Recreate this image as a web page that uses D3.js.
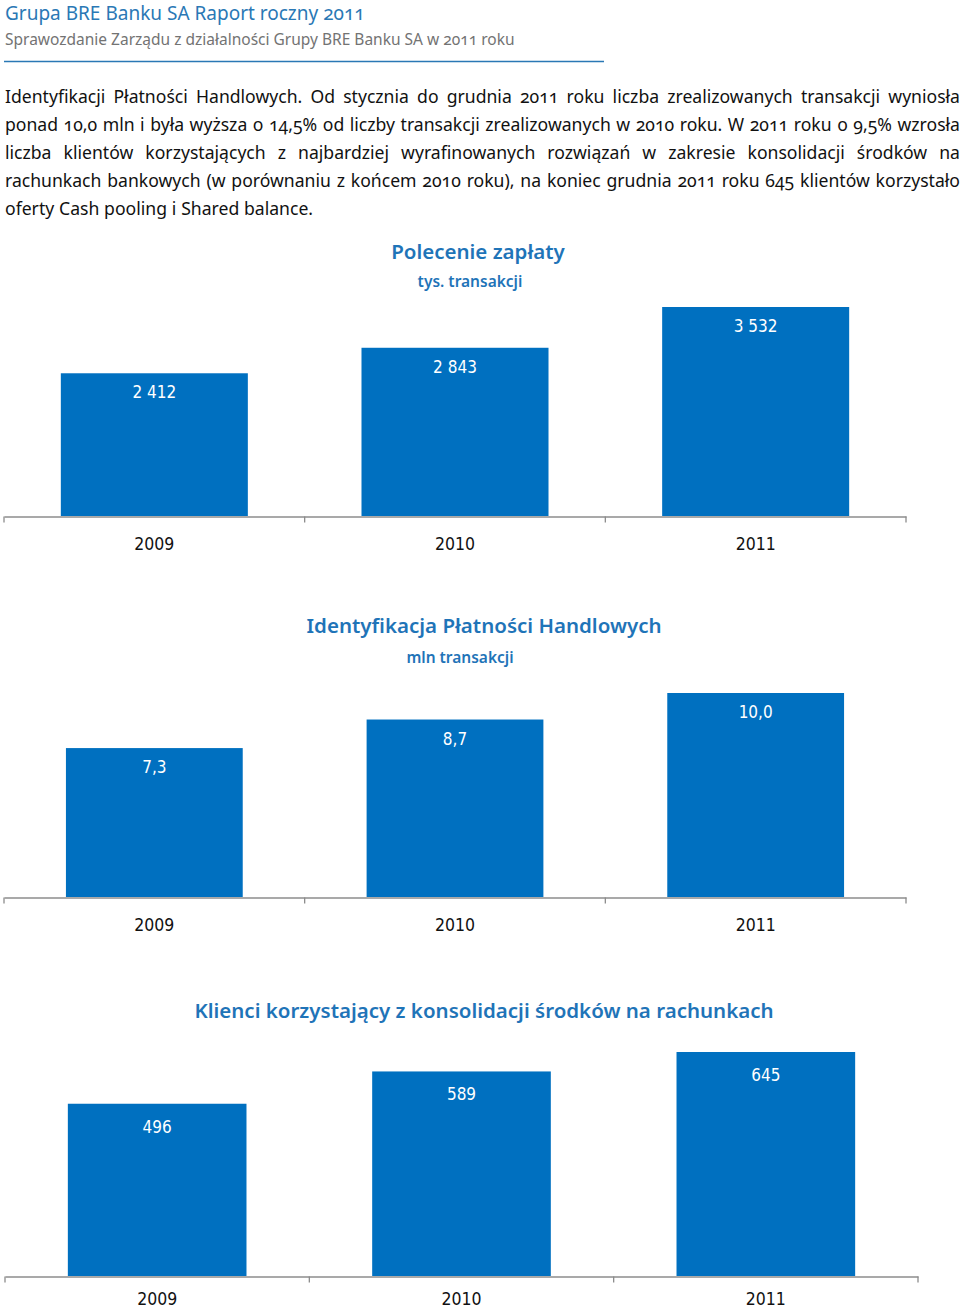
<!DOCTYPE html>
<html><head><meta charset="utf-8">
<script src="https://cdn.jsdelivr.net/npm/d3@7"></script>
<style>
html,body{margin:0;padding:0;background:#fff;}
svg{display:block;}
.onum{font-feature-settings:"onum" 1;}
</style></head>
<body>
<svg id="c" width="960" height="1308"></svg>
<script>
// ---------- DATA ----------
const headerTitle = "Grupa BRE Banku SA Raport roczny 2011";
const headerSub = "Sprawozdanie Zarządu z działalności Grupy BRE Banku SA w 2011 roku";
const bodyLines = [
  "Identyfikacji Płatności Handlowych. Od stycznia do grudnia 2011 roku liczba zrealizowanych transakcji wyniosła",
  "ponad 10,0 mln i była wyższa o 14,5% od liczby transakcji zrealizowanych w 2010 roku. W 2011 roku o 9,5% wzrosła",
  "liczba klientów korzystających z najbardziej wyrafinowanych rozwiązań w zakresie konsolidacji środków na",
  "rachunkach bankowych (w porównaniu z końcem 2010 roku), na koniec grudnia 2011 roku 645 klientów korzystało",
  "oferty Cash pooling i Shared balance."
];
const years = ["2009", "2010", "2011"];
const chartTitles = ["Polecenie zapłaty", "Identyfikacja Płatności Handlowych", "Klienci korzystający z konsolidacji środków na rachunkach"];
const chartUnits = ["tys. transakcji", "mln transakcji", ""];
const valuesPolecenie = [2412, 2843, 3532];
const valuesIPH = [7.3, 8.7, 10.0];
const valuesKlienci = [496, 589, 645];
const labelsPolecenie = ["2 412", "2 843", "3 532"];
const labelsIPH = ["7,3", "8,7", "10,0"];
const labelsKlienci = ["496", "589", "645"];

// ---------- STYLE / LAYOUT ----------
const BLUE = "#0070c0";
const TITLE_BLUE = "#1f74b8";
const bodyFont = "'Noto Sans', 'Open Sans', sans-serif";
const chartFont = "'DejaVu Sans Condensed', 'Liberation Sans Narrow', 'Liberation Sans', sans-serif";

const svg = d3.select("#c");

// header
svg.append("text").attr("class", "onum").attr("x", 5).attr("y", 20).attr("font-family", bodyFont)
  .attr("font-size", 19).attr("fill", "#2a78b5").text(headerTitle);
svg.append("text").attr("class", "onum").attr("x", 5).attr("y", 45).attr("font-family", bodyFont)
  .attr("font-size", 15.5).attr("fill", "#737373").text(headerSub);
svg.append("line").attr("x1", 4).attr("x2", 604).attr("y1", 61.5).attr("y2", 61.5)
  .attr("stroke", "#2a78b5").attr("stroke-width", 1.6);

// body text, justified
const bodyX0 = 5, bodyX1 = 960, bodyY0 = 103, bodyLH = 28;
bodyLines.forEach((line, i) => {
  const g = svg.append("g");
  const words = line.split(" ");
  const y = bodyY0 + i * bodyLH;
  const nodes = words.map(w => g.append("text").attr("class", "onum").attr("y", y).attr("font-family", bodyFont)
    .attr("font-size", 17.6).attr("fill", "#111").text(w));
  const widths = nodes.map(n => n.node().getComputedTextLength());
  const total = d3.sum(widths);
  const last = i === bodyLines.length - 1;
  let space = 4.8;
  if (!last) space = (bodyX1 - bodyX0 - total) / (words.length - 1);
  let x = bodyX0;
  nodes.forEach((n, k) => { n.attr("x", x); x += widths[k] + space; });
});

// charts
const charts = [
  {title: chartTitles[0], unit: chartUnits[0], values: valuesPolecenie, labels: labelsPolecenie,
   titleX: 478, titleY: 259, unitX: 470, unitY: 287, x0: 4, x1: 906, base: 516, top: 307,
   barFrac: 0.622, labelOff: 25, yearY: 550},
  {title: chartTitles[1], unit: chartUnits[1], values: valuesIPH, labels: labelsIPH,
   titleX: 484, titleY: 633, unitX: 460, unitY: 663, x0: 4, x1: 906, base: 897, top: 693,
   barFrac: 0.588, labelOff: 25, yearY: 931},
  {title: chartTitles[2], unit: chartUnits[2], values: valuesKlienci, labels: labelsKlienci,
   titleX: 484, titleY: 1018, unitX: 484, unitY: 1040, x0: 5, x1: 918, base: 1276, top: 1052,
   barFrac: 0.587, labelOff: 29, yearY: 1305}
];

charts.forEach(c => {
  const g = svg.append("g");
  g.append("text").attr("x", c.titleX).attr("y", c.titleY).attr("text-anchor", "middle")
    .attr("font-family", bodyFont).attr("font-weight", 600).attr("font-size", 20.5)
    .attr("fill", TITLE_BLUE).text(c.title);
  if (c.unit) g.append("text").attr("x", c.unitX).attr("y", c.unitY).attr("text-anchor", "middle")
    .attr("font-family", bodyFont).attr("font-weight", 600).attr("font-size", 15.5)
    .attr("fill", TITLE_BLUE).text(c.unit);

  const x = d3.scaleBand().domain(years).range([c.x0, c.x1]).padding(0);
  const y = d3.scaleLinear().domain([0, d3.max(c.values)]).range([c.base, c.top]);
  const bw = x.bandwidth() * c.barFrac;
  const data = years.map((yr, i) => ({yr, v: c.values[i], lab: c.labels[i]}));

  g.selectAll("rect.bar").data(data).join("rect").attr("class", "bar")
    .attr("x", d => x(d.yr) + (x.bandwidth() - bw) / 2)
    .attr("width", bw)
    .attr("y", d => y(d.v))
    .attr("height", d => y(0) - y(d.v))
    .attr("fill", BLUE);

  g.selectAll("text.val").data(data).join("text").attr("class", "val")
    .attr("x", d => x(d.yr) + x.bandwidth() / 2)
    .attr("y", d => y(d.v) + c.labelOff)
    .attr("text-anchor", "middle").attr("font-family", chartFont)
    .attr("font-size", 17).attr("fill", "#fff").text(d => d.lab);

  // axis
  const axis = d3.axisBottom(x).tickSize(0).tickFormat("");
  const ag = g.append("g").attr("transform", `translate(0,${c.base + 0.5})`).call(axis);
  ag.select(".domain").attr("stroke", "#8c8c8c").attr("stroke-width", 1.3);
  const edges = years.map(yr => x(yr)).concat([c.x1]);
  ag.selectAll("line.edge").data(edges).join("line").attr("class", "edge")
    .attr("x1", d => d).attr("x2", d => d).attr("y1", 0).attr("y2", 6)
    .attr("stroke", "#8c8c8c").attr("stroke-width", 1.3);

  g.selectAll("text.yr").data(data).join("text").attr("class", "yr")
    .attr("x", d => x(d.yr) + x.bandwidth() / 2)
    .attr("y", c.yearY)
    .attr("text-anchor", "middle").attr("font-family", chartFont)
    .attr("font-size", 17.5).attr("fill", "#111").text(d => d.yr);
});
</script>
</body></html>
